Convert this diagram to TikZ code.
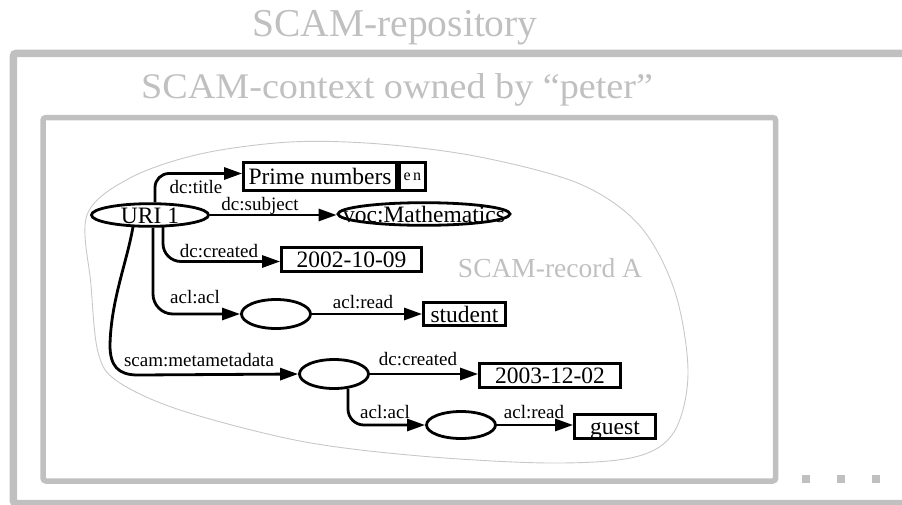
\documentclass[tikz,border=0pt]{standalone}
\usepackage{fontspec}
\setmainfont{Liberation Serif}
\usetikzlibrary{arrows.meta,calc,shapes.geometric}
\definecolor{lgray}{HTML}{C0C0C0}
\definecolor{blobgray}{HTML}{C8C8C8}
\begin{document}
\begin{tikzpicture}[x=1pt,y=-1pt,
  every node/.style={inner sep=0pt},
  ntext/.style={font=\fontsize{23.5}{26}\selectfont, text height=16pt, text depth=0pt},
  ell/.style={ntext, ellipse, draw, line width=2.8pt},
  box/.style={ntext, rectangle, draw, line width=2.8pt},
  conn/.style={line width=2.8pt, -{Triangle[length=18pt,width=12pt]}},
  lbl/.style={font=\fontsize{19}{21}\selectfont, anchor=base},
  frame/.style={draw=lgray, rounded corners=3pt},
  ttl/.style={text=lgray}]
\useasboundingbox (0,0) rectangle (902,504);
\clip (0,0) rectangle (902,504);

% frames
\draw[frame, line width=7.5pt] (13.3,53.3) rectangle (915,503.5);
\draw[frame, line width=5.5pt] (43,117.5) rectangle (775.7,481);
\foreach \xx in {806,841,876}
  \fill[lgray] (\xx-4,475) rectangle (\xx+4,483);

% titles
\node[ttl, font=\fontsize{39.5}{42}\selectfont, anchor=base] (trepo) at (395,36) {SCAM-repository};
\node[ttl, font=\fontsize{36}{38}\selectfont, anchor=base west] (tctx) at (141,98) {\scalebox{1.06}[1]{SCAM-context owned by “peter”}};
\node[ttl, font=\fontsize{27.5}{30}\selectfont, anchor=base] (trec) at (550,277) {SCAM-record A};

% record blob
\draw[blobgray, line width=0.9pt] plot[smooth cycle, tension=0.55] coordinates {
  (87,215) (130,178) (200,154) (290,142) (380,144) (480,157) (580,184)
  (640,226) (675,292) (688,373) (674,432) (635,457) (550,463) (420,456)
  (300,441) (180,410) (117,381) (98,352) (91,285)};

% nodes
\node[ell, minimum width=117pt, minimum height=22pt] (uri) at (150,215) {\makebox[0pt]{URI 1}};
\node[box, minimum width=153pt, minimum height=28pt] (prime) at (320,176.5) {Prime numbers};
\node[box, anchor=west, minimum width=26pt, minimum height=28pt, font=\fontsize{16}{18}\selectfont, text height=8pt] (en) at (prime.east) {e\kern2.5pt n};
\node[ell, minimum width=172pt, minimum height=21pt] (voc) at (424,214) {\makebox[0pt]{voc:Mathematics}};
\node[box, minimum width=140pt, minimum height=24pt] (d1) at (351.5,259.5) {2002-10-09};
\node[ell, minimum width=69pt, minimum height=29pt] (e1) at (276,314) {};
\node[box, minimum width=82pt, minimum height=23pt] (student) at (464.5,314) {student};
\node[ell, minimum width=69pt, minimum height=29pt] (e2) at (334,374) {};
\node[box, minimum width=141pt, minimum height=24pt] (d2) at (550,375.5) {2003-12-02};
\node[ell, minimum width=69pt, minimum height=27pt] (e3) at (461,425) {};
\node[box, minimum width=81pt, minimum height=24pt] (guest) at (615,426.5) {guest};

% connectors
\draw[conn, rounded corners=14pt] ($(uri.north)+(5,0)$) |- ([yshift=3pt]prime.west);
\draw[conn] (uri.east) -- (uri.east -| voc.west);
\draw[conn, rounded corners=18pt] ($(uri.south)+(13,-1)$) |- ([yshift=-2pt]d1.west);
\draw[conn, rounded corners=20pt] ($(uri.south)+(3,0)$) |- (e1.west);
\draw[conn] (e1.east) -- (e1.east -| student.west);
\draw[conn] ($(uri.south)+(-17,-1)$) .. controls (127,262) and (111,300) .. (110,345)
  .. controls (110,366) and (118,375) .. (138,375) -- (e2.west);
\draw[conn] (e2.east) -- (e2.east -| d2.west);
\draw[conn, rounded corners=16pt] ($(e2.south)+(14,-1)$) |- (e3.west);
\draw[conn] (e3.east) -- (e3.east -| guest.west);

% connector labels
\node[lbl] (ltitle) at (196,193) {dc:title};
\node[lbl] (lsubject) at (260,210) {dc:subject};
\node[lbl] (lcreated) at (219,257) {dc:created};
\node[lbl] (lacl) at (195,303) {acl:acl};
\node[lbl] (lread) at (363,308) {acl:read};
\node[lbl] (lmeta) at (199,366) {scam:metametadata};
\node[lbl] (lcreated2) at (418,365) {dc:created};
\node[lbl] (lacl2) at (385,418) {acl:acl};
\node[lbl] (lread2) at (534,418) {acl:read};
\end{tikzpicture}
\end{document}
